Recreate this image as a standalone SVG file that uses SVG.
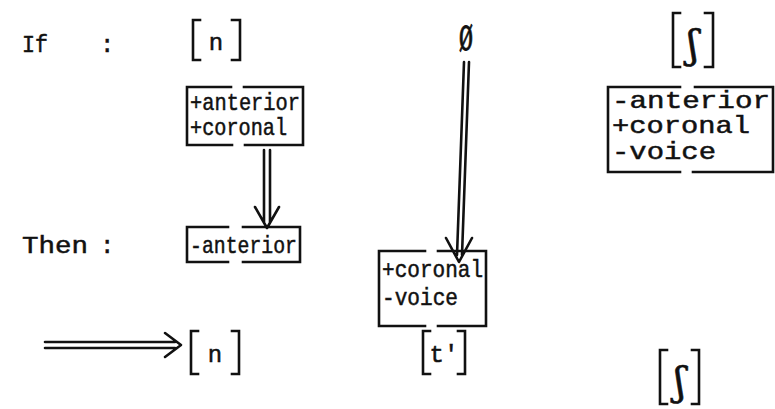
<svg xmlns="http://www.w3.org/2000/svg" width="775" height="409" viewBox="0 0 775 409">
<style>
text{font-family:"Liberation Mono","Courier New",monospace;fill:#111;stroke:#111;stroke-width:0.5}
.t{font-size:24px}
.h{font-size:24px}
.b{fill:none;stroke:#111;stroke-width:2.6;stroke-linecap:square}
.a{fill:none;stroke:#111;stroke-width:2.6;stroke-linecap:round;stroke-linejoin:round}
.sym{font-family:"DejaVu Serif",serif;stroke-width:0.6}
</style>
<rect width="775" height="409" fill="#fff"/>
<g id="label-if"><text class="h" x="22" y="52" textLength="26" lengthAdjust="spacingAndGlyphs">If</text><text class="h" x="100" y="52">:</text></g>
<g id="label-then"><text class="h" x="22" y="253" textLength="66" lengthAdjust="spacingAndGlyphs">Then</text><text class="h" x="100" y="253">:</text></g>
<g id="n-top">
<path class="b" d="M200 20H193V60H200M232 20H240V60H232"/>
<text class="t" x="216" y="50" text-anchor="middle">n</text>
</g>
<g id="box-anterior-coronal">
<path class="b" d="M187 87H231M244 87H303V145H245M232 145H187V87"/>
<text class="t" x="190" y="110" textLength="110" lengthAdjust="spacingAndGlyphs">+anterior</text>
<text class="t" x="190" y="135" textLength="97" lengthAdjust="spacingAndGlyphs">+coronal</text>
</g>
<g id="box-minus-anterior">
<path class="b" d="M187 227H228M243 227H300V262H243M228 262H187V227"/>
<text class="t" x="190" y="253" textLength="107" lengthAdjust="spacingAndGlyphs">-anterior</text>
</g>
<g id="null">
<text class="sym" transform="translate(466 50) scale(0.75 1.45)" x="0" y="0" font-size="32" text-anchor="middle">ø</text>
</g>
<g id="box-coronal-voice">
<path class="b" d="M379 251H425M438 251H486V326H438M425 326H379V251"/>
<text class="t" x="382" y="277" textLength="101" lengthAdjust="spacingAndGlyphs">+coronal</text>
<text class="t" x="382" y="305" textLength="76" lengthAdjust="spacingAndGlyphs">-voice</text>
</g>
<g id="esh-top">
<path class="b" d="M680 13H673V67H680M705 13H713V67H705"/>
<text class="sym" x="693" y="58" font-size="40" text-anchor="middle">ʃ</text>
</g>
<g id="box-esh-features">
<path class="b" d="M608 87H680M695 87H773V172H693M680 172H608V87"/>
<text class="t" x="612" y="108" textLength="158" lengthAdjust="spacingAndGlyphs">-anterior</text>
<text class="t" x="612" y="133" textLength="138" lengthAdjust="spacingAndGlyphs">+coronal</text>
<text class="t" x="612" y="159" textLength="104" lengthAdjust="spacingAndGlyphs">-voice</text>
</g>
<g id="n-bottom">
<path class="b" d="M198 331H191V374H198M232 331H239V374H232"/>
<text class="t" x="215" y="362" text-anchor="middle">n</text>
</g>
<g id="t-bottom">
<path class="b" d="M430 331H423V374H430M458 331H465V374H458"/>
<text class="t" x="444" y="362" text-anchor="middle">t'</text>
</g>
<g id="esh-bottom">
<path class="b" d="M667 350H660V404H667M692 350H699V404H692"/>
<text class="sym" x="680" y="395" font-size="40" text-anchor="middle">ʃ</text>
</g>
<g id="connectors">
<path class="a" d="M264 150V222M270 150V222M255 207L267 228L279 207"/>
<path class="a" d="M464 62L457 255M469 62L462 255M446 238L459 262L472 238"/>
<path class="a" d="M45 342H175M45 348H175M165 333L181 345L165 357"/>
</g>
</svg>
